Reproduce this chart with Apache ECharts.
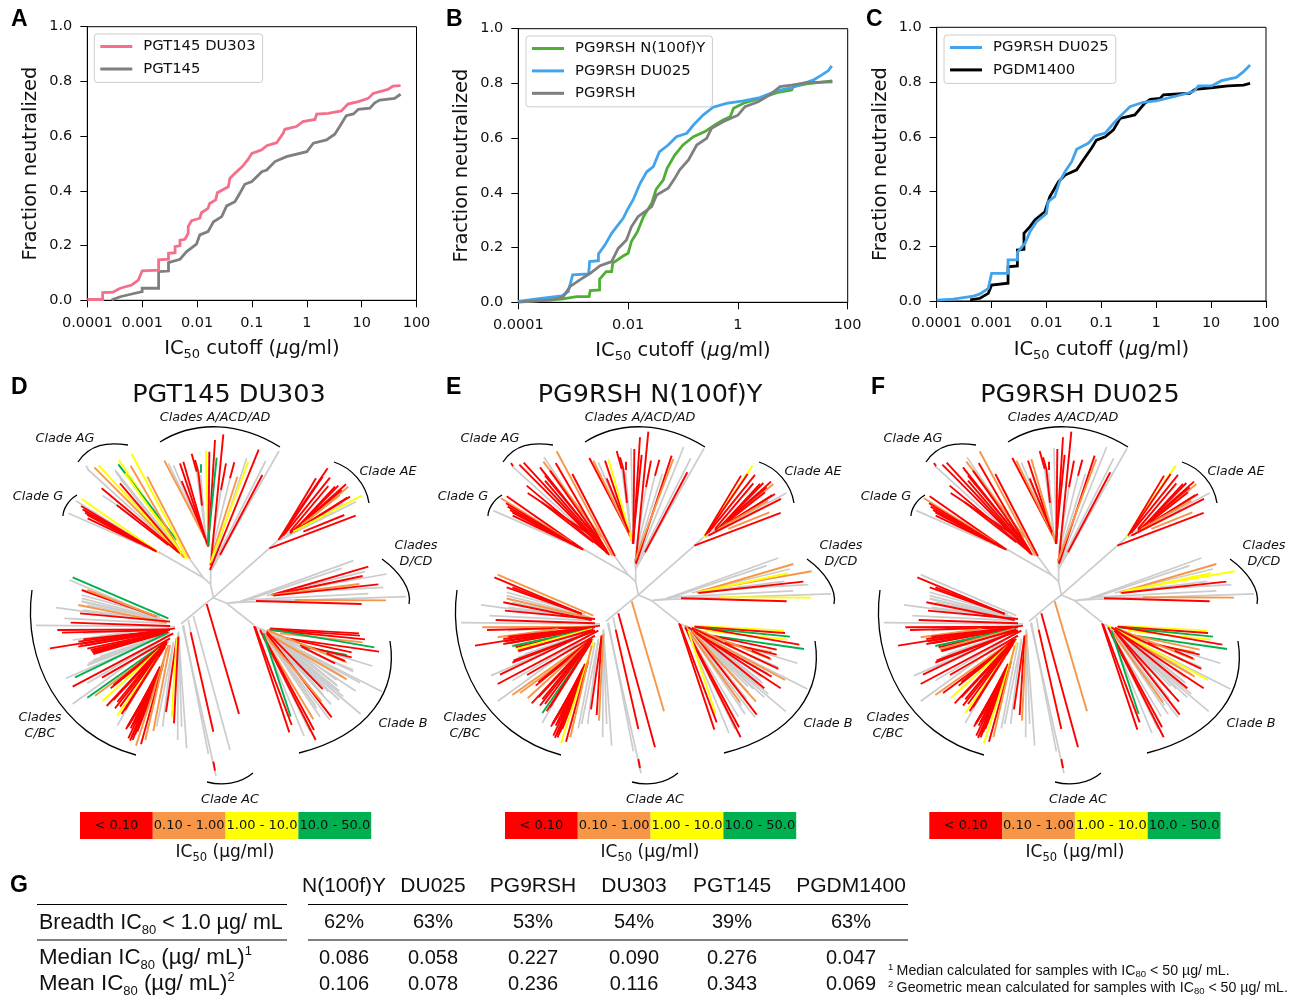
<!DOCTYPE html>
<html><head><meta charset="utf-8">
<style>html,body{margin:0;padding:0;background:#fff}#c{width:1294px;height:995px}</style>
<script src="https://cdn.jsdelivr.net/npm/echarts@6/dist/echarts.min.js"></script>
</head><body><div id="c"></div>
<script>
// ---------- neutralization curves: [log10 IC50 cutoff, fraction neutralized]
const pgt145du303 = [[-4,.003],[-3.72,.003],[-3.72,.028],[-3.53,.03],[-3.4,.044],[-3.19,.056],[-3.07,.074],[-3,.108],[-2.7,.11],[-2.7,.148],[-2.52,.15],[-2.52,.172],[-2.4,.174],[-2.4,.196],[-2.31,.2],[-2.31,.22],[-2.22,.223],[-2.16,.245],[-2.16,.27],[-2.1,.291],[-1.95,.3],[-1.92,.32],[-1.8,.336],[-1.77,.354],[-1.66,.367],[-1.63,.393],[-1.43,.415],[-1.4,.446],[-1.31,.464],[-1.18,.488],[-1.07,.515],[-1,.537],[-.82,.55],[-.73,.565],[-.55,.576],[-.43,.61],[-.4,.625],[-.19,.635],[-.07,.653],[.15,.661],[.18,.681],[.39,.683],[.63,.692],[.75,.717],[.94,.726],[1.12,.738],[1.21,.756],[1.48,.771],[1.57,.783],[1.71,.785]];
const pgt145 = [[-3.56,.001],[-3.4,.013],[-3.19,.023],[-3,.032],[-3,.044],[-2.7,.044],[-2.7,.105],[-2.52,.107],[-2.52,.138],[-2.31,.15],[-2.19,.178],[-2.01,.205],[-1.95,.239],[-1.8,.251],[-1.7,.287],[-1.55,.306],[-1.46,.345],[-1.31,.36],[-1.22,.391],[-1.13,.424],[-1,.434],[-.82,.47],[-.73,.476],[-.58,.507],[-.37,.525],[0,.543],[.12,.574],[.36,.586],[.51,.607],[.6,.635],[.72,.675],[.85,.681],[.94,.698],[1.15,.702],[1.24,.722],[1.33,.732],[1.6,.738],[1.71,.753]];
const pg9rshN100fY = [[-4,.002],[-3.21,.012],[-2.94,.021],[-2.71,.021],[-2.69,.043],[-2.52,.045],[-2.52,.084],[-2.4,.112],[-2.3,.112],[-2.28,.143],[-2.09,.169],[-2,.179],[-1.94,.222],[-1.83,.258],[-1.72,.313],[-1.57,.362],[-1.49,.413],[-1.36,.447],[-1.29,.49],[-1.15,.538],[-1,.575],[-.81,.605],[-.6,.624],[-.42,.648],[-.27,.666],[-.14,.678],[-.08,.709],[.13,.73],[.4,.745],[.71,.766],[.98,.776],[1.01,.788],[1.25,.798],[1.72,.809]];
const pg9rshDu025B = [[-4,.003],[-3.73,.011],[-3.21,.023],[-3.09,.039],[-3.01,.1],[-2.72,.104],[-2.7,.149],[-2.54,.152],[-2.54,.177],[-2.42,.21],[-2.3,.252],[-2.21,.276],[-2.09,.307],[-2,.343],[-1.91,.374],[-1.78,.435],[-1.66,.477],[-1.54,.496],[-1.43,.55],[-1.27,.575],[-1.12,.605],[-.93,.618],[-.81,.648],[-.63,.685],[-.45,.713],[-.21,.727],[.1,.736],[.4,.748],[.71,.773],[1,.786],[1.37,.812],[1.53,.831],[1.65,.847],[1.71,.864]];
const pg9rsh = [[-4,.001],[-3.36,.009],[-3.18,.021],[-3.06,.057],[-2.88,.082],[-2.69,.106],[-2.51,.134],[-2.3,.149],[-2.18,.197],[-2.03,.228],[-1.94,.276],[-1.82,.313],[-1.57,.35],[-1.48,.392],[-1.27,.417],[-1.15,.453],[-1.06,.484],[-.9,.52],[-.75,.575],[-.57,.599],[-.48,.636],[-.27,.66],[0,.684],[.13,.715],[.37,.733],[.58,.758],[.77,.788],[.98,.794],[1.25,.803],[1.72,.806]];
const pgdm1400 = [[-3.39,.004],[-3.21,.01],[-3.06,.028],[-3,.058],[-2.7,.065],[-2.7,.125],[-2.53,.128],[-2.53,.186],[-2.41,.189],[-2.41,.247],[-2.3,.272],[-2.21,.296],[-2.03,.326],[-1.94,.381],[-1.78,.436],[-1.66,.46],[-1.45,.479],[-1.33,.515],[-1.18,.558],[-1.09,.588],[-.93,.6],[-.78,.625],[-.66,.667],[-.39,.68],[-.21,.722],[-.11,.737],[.07,.74],[.13,.753],[.61,.759],[.71,.773],[1.04,.78],[1.31,.786],[1.59,.789],[1.71,.795]];
const pg9rshDu025C = [[-4,.003],[-3.7,.007],[-3.33,.018],[-3.21,.026],[-3.06,.046],[-3,.101],[-2.7,.101],[-2.7,.15],[-2.53,.15],[-2.53,.178],[-2.39,.211],[-2.3,.253],[-2.18,.29],[-2,.32],[-1.97,.363],[-1.85,.381],[-1.76,.436],[-1.66,.473],[-1.54,.509],[-1.45,.554],[-1.24,.576],[-1.12,.603],[-.93,.613],[-.78,.649],[-.63,.68],[-.48,.71],[-.24,.726],[0,.731],[.37,.749],[.68,.765],[.77,.786],[1.01,.786],[1.19,.805],[1.46,.817],[1.59,.838],[1.71,.862]];
const tickLabels10 = ['0.0001','0.001','0.01','0.1','1','10','100'];
const tickLabels100 = ['0.0001','0.01','1','100'];
const fractionTicks = ['0.0','0.2','0.4','0.6','0.8','1.0'];

// ---------- phylogenetic tree: [tip x, tip y, base x, base y, IC50 bin per panel D/E/F]
// bins: r <0.1, o 0.1-1, y 1-10, n 10-50, g not neutralized / internal branch
const internalBranches = [[632,628,640,668,'ggg'],[632,628,632,590,'ggg'],[632,590,630,560,'ggg'],[632,628,610,608,'ggg'],[610,608,570,553,'ggg'],[610,608,475,530,'ggg'],[640,668,808,520,'ggg'],[808,520,835,495,'ggg'],[640,668,680,685,'ggg'],[680,685,725,680,'ggg'],[680,685,762,750,'ggg'],[640,668,620,683,'ggg'],[620,683,543,747,'ggg']];
const cladeG = [[245,372,475,532,'yrr'],[228,378,440,510,'goo'],[243,393,470,530,'rrr'],[248,403,465,527,'rrr'],[255,413,460,525,'rrr'],[262,420,440,515,'rrr'],[263,430,420,505,'rrr'],[205,415,480,535,'ggg']];
const cladeAG = [[258,272,264,282,'grr'],[262,282,535,530,'ggg'],[283,277,540,535,'orr'],[296,271,548,545,'yrr'],[348,292,530,525,'ggg'],[357,255,555,550,'ygg'],[355,268,530,495,'noo'],[392,272,552,548,'orr'],[395,237,562,550,'yoo'],[442,305,570,552,'orr'],[305,340,535,532,'rrr'],[360,325,540,535,'rrr'],[350,390,505,510,'rrr'],[308,362,500,490,'grr'],[345,285,540,530,'grr'],[375,295,545,535,'yrr'],[360,310,530,515,'grr'],[350,330,500,480,'ggg']];
const cladeA = [[493,257,615,490,'orr'],[505,265,618,495,'goo'],[520,270,618,500,'ggg'],[540,265,615,490,'rrr'],[550,260,622,510,'ryo'],[545,318,612,480,'rrr'],[575,236,590,290,'rrr'],[590,290,620,500,'ggg'],[585,255,595,290,'rrr'],[603,268,603,293,'nrr'],[595,290,606,392,'rrr'],[602,300,618,505,'ggg'],[618,228,625,515,'ygg'],[628,230,625,515,'rrr'],[645,195,625,510,'rrr'],[670,178,632,570,'rrr'],[650,248,623,515,'nrr'],[678,265,663,345,'rrr'],[703,262,690,310,'rrr'],[690,310,633,540,'ggg'],[663,345,633,530,'ggg'],[740,250,633,575,'grr'],[712,305,640,530,'ogg'],[745,260,630,565,'yoo'],[776,224,630,585,'rgg'],[797,258,638,572,'ggg'],[787,300,660,540,'rrr'],[837,228,632,590,'ggg']];
const cladeAE = [[983,280,835,495,'ryy'],[948,310,840,490,'rrr'],[968,305,845,485,'rrr'],[990,308,850,482,'rrr'],[985,333,870,470,'rrr'],[1005,335,880,470,'rrr'],[1015,332,885,465,'rrr'],[1038,328,890,460,'rrr'],[1045,335,892,462,'ooo'],[1025,345,870,475,'rrr'],[1020,360,905,450,'orr'],[1042,368,885,468,'rrr'],[1050,365,880,470,'rrr'],[1000,360,880,470,'ggg'],[1015,352,860,480,'ggg'],[1030,385,880,470,'goo'],[1085,362,880,470,'ygg'],[1068,380,850,490,'grr'],[1033,420,910,470,'roo'],[1067,422,808,520,'rrr'],[1000,410,840,495,'ggg']];
const cladeDCD = [[1060,557,720,680,'ggg'],[1025,580,720,682,'ggg'],[1095,590,800,662,'ggg'],[1150,637,830,655,'ggg'],[1105,656,730,675,'ggg'],[1218,665,690,683,'ggg'],[885,675,770,675,'ggg'],[1105,575,815,660,'roo'],[1160,597,830,655,'goy'],[1088,603,820,660,'ryy'],[1078,627,815,660,'ogg'],[1135,628,820,662,'rrr'],[1158,676,885,675,'oyo'],[1085,687,768,678,'rrr']];
// lower half of the tree, y counted from the line lowerOrigin
const lowerOrigin = 675;
const cladeB = [[1010,240,830,110,'ggg'],[1005,250,830,110,'ggg'],[1012,258,840,115,'ggg'],[995,262,830,115,'ggg'],[985,275,820,110,'ggg'],[970,285,820,110,'ggg'],[1030,230,850,120,'ggg'],[960,300,810,105,'ggg'],[950,325,800,105,'ggg'],[1077,100,810,85,'ryy'],[1080,107,808,88,'rrr'],[1095,118,810,90,'rnn'],[1088,127,840,100,'oyy'],[1123,142,810,88,'nrr'],[1137,155,860,115,'rnn'],[1055,157,860,115,'rro'],[1040,165,905,140,'noo'],[1055,172,900,135,'rrr'],[1040,187,800,90,'ooo'],[1035,183,980,160,'rrr'],[1005,190,905,140,'rgg'],[1117,198,830,110,'ggg'],[1060,210,850,120,'ggg'],[1060,215,800,92,'grr'],[1040,238,800,100,'oro'],[1080,248,780,85,'goy'],[1147,275,800,100,'ggg'],[1067,273,790,90,'grr'],[1030,290,790,90,'ggg'],[1018,273,800,95,'grr'],[968,267,800,95,'rgg'],[1000,265,800,100,'ggg'],[1082,342,770,80,'ggg'],[995,352,800,100,'rrr'],[993,313,800,100,'gor'],[965,305,790,100,'ogg'],[945,315,790,100,'goo'],[940,358,785,100,'ogg'],[942,390,780,90,'rrr'],[947,420,790,110,'rrr'],[960,350,790,100,'ggg'],[990,360,790,100,'ggg'],[912,408,785,100,'ggg'],[930,395,785,100,'ggg'],[872,350,790,100,'nyn'],[875,375,765,80,'rrr'],[868,397,762,78,'rrr'],[1018,300,800,100,'ggg'],[1010,255,820,110,'ggg']];
const cladeAC = [[717,342,620,12,'roo'],[690,450,580,48,'grr'],[572,97,565,60,'ggg'],[640,395,572,97,'rrr'],[625,462,550,75,'ggg'],[648,528,548,78,'ggg'],[645,512,640,485,'rrr']];
const cladeC = [[218,-68,505,55,'nog'],[208,-60,470,50,'grr'],[245,-30,470,50,'rrr'],[262,-30,470,50,'orr'],[245,-15,480,50,'ggg'],[245,-5,480,55,'ggg'],[245,5,490,58,'ggg'],[262,15,490,60,'ggg'],[250,30,500,62,'ggg'],[168,23,500,68,'ggg'],[235,15,500,68,'orr'],[245,3,495,62,'gog'],[240,40,510,65,'rrr'],[193,55,500,70,'ggg'],[212,68,510,78,'rrr'],[108,76,525,80,'ggg'],[172,90,510,88,'ror'],[186,98,510,90,'rrr'],[250,100,515,85,'ggg'],[218,120,400,95,'goo'],[150,145,525,85,'rrr'],[235,125,500,90,'rrr'],[235,140,500,92,'rrr'],[240,132,500,92,'rrr'],[255,137,500,93,'rrr'],[250,118,505,90,'rrr'],[272,150,505,96,'rrr'],[278,158,505,97,'rrr'],[262,146,500,95,'rnn'],[275,155,500,95,'ryo'],[280,162,500,98,'rrr'],[280,180,510,100,'ggg'],[300,170,510,98,'ggg'],[275,185,510,100,'ggg'],[330,165,510,100,'ggg'],[265,190,510,100,'grr'],[262,196,510,100,'grr'],[225,232,500,100,'nrr'],[198,235,510,100,'ggg'],[218,260,520,100,'rrr'],[306,233,510,115,'rrr'],[218,312,510,100,'ggg'],[262,250,500,110,'ggg'],[262,293,500,125,'noo'],[285,287,505,125,'oor'],[332,265,500,130,'rrr'],[340,255,498,125,'rrr'],[340,300,495,135,'rrr'],[345,325,490,140,'rrr'],[360,320,495,135,'rrr'],[375,330,495,140,'rrr'],[308,303,480,145,'yoy'],[320,318,500,125,'rrr'],[352,306,500,125,'rrr'],[352,347,475,170,'yny'],[365,342,500,130,'rrr'],[352,377,490,130,'ggg'],[378,388,470,230,'rrr'],[385,378,472,225,'rrr'],[392,385,475,220,'rrr'],[398,375,475,215,'rrr'],[382,380,472,228,'rrr'],[388,372,470,225,'rrr'],[395,362,472,220,'rrr'],[403,350,475,210,'rrr'],[410,370,478,210,'rrr'],[420,340,480,200,'rrr'],[385,415,478,215,'rrr'],[395,412,480,210,'rrr'],[402,400,482,205,'rrr'],[390,422,478,220,'rrr'],[398,420,480,200,'rrr'],[405,405,480,215,'rrr'],[412,395,485,205,'rrr'],[408,437,505,135,'oyy'],[423,433,490,190,'rrr'],[436,420,500,145,'ooo'],[460,393,510,135,'ogg'],[470,380,520,130,'ggg'],[488,380,520,125,'ggg'],[498,336,530,115,'rrr'],[515,353,530,115,'yrr'],[522,370,535,110,'roo'],[533,420,535,100,'ggg'],[545,380,535,100,'ggg'],[560,445,535,95,'ggg']];

// ---------- table
const tableColumns = ['N(100f)Y','DU025','PG9RSH','DU303','PGT145','PGDM1400'];
const breadth = ['62%','63%','53%','54%','39%','63%'];
const medianIC80 = ['0.086','0.058','0.227','0.090','0.276','0.047'];
const meanIC80 = ['0.106','0.078','0.236','0.116','0.343','0.069'];
const binLabels = ['< 0.10','0.10 - 1.00','1.00 - 10.0','10.0 - 50.0'];

const BIN_COLORS = {r:'#ff0000',o:'#f79646',y:'#ffff00',n:'#00b050',g:'#cccccc'};
const SANS = 'DejaVu Sans', ARIAL = 'Liberation Sans';
const lowered = a => a.map(b => [b[0], b[1]+lowerOrigin, b[2], b[3]+lowerOrigin, b[4]]);
const allBranches = [...internalBranches,...cladeG,...cladeAG,...cladeA,...cladeAE,...cladeDCD,...lowered(cladeB),...lowered(cladeAC),...lowered(cladeC)];
const panelData = p => {
  const rows = allBranches.map(b => [b[0],b[1],b[2],b[3],b[4][p]]);
  return [...rows.filter(r=>r[4]==='g'),...rows.filter(r=>r[4]!=='g')];
};
const pow = a => a.map(d => [Math.pow(10,d[0]), d[1]]);

const rich = {
  a:{fontFamily:SANS,fontSize:19.5,color:'#111'},
  s:{fontFamily:SANS,fontSize:13,color:'#111',verticalAlign:'bottom',lineHeight:24},
  i:{fontFamily:SANS,fontSize:19.5,fontStyle:'italic',color:'#111'}
};
const plots = [
  {left:87.3,top:26.7,right:416.5,bottom:300.3,base:10,labels:tickLabels10},
  {left:518.3,top:28.7,right:847.7,bottom:302.3,base:100,labels:tickLabels100},
  {left:936.7,top:27.3,right:1266,bottom:301,base:10,labels:tickLabels10}
];
const grid=[],xAxis=[],yAxis=[],series=[];
plots.forEach((p,i)=>{
  grid.push({left:p.left,top:p.top,width:p.right-p.left,height:p.bottom-p.top,show:true,borderColor:'#000',borderWidth:1,backgroundColor:'transparent'});
  xAxis.push({gridIndex:i,type:'log',logBase:p.base,min:0.0001,max:100,splitLine:{show:false},minorTick:{show:false},
    axisLine:{onZero:false,lineStyle:{color:'#000',width:1}},axisTick:{inside:false,length:7,lineStyle:{color:'#000'}},
    axisLabel:{fontFamily:SANS,fontSize:14.5,color:'#111',margin:15,showMinLabel:true,showMaxLabel:true,hideOverlap:false,formatter:(v,idx)=>p.labels[idx]},
    name:'{a|IC}{s|50}{a| cutoff (}{i|μ}{a|g/ml)}',nameLocation:'middle',nameGap:37,nameTextStyle:{rich}});
  yAxis.push({gridIndex:i,type:'value',min:0,max:1,interval:0.2,splitLine:{show:false},
    axisLine:{show:true,lineStyle:{color:'#000',width:1}},axisTick:{show:true,length:7,lineStyle:{color:'#000'}},
    axisLabel:{fontFamily:SANS,fontSize:14.5,color:'#111',margin:15,padding:[8,0,0,0],formatter:(v,idx)=>fractionTicks[idx]},
    name:'Fraction neutralized',nameLocation:'middle',nameGap:46,nameTextStyle:{fontFamily:SANS,fontSize:19.5,color:'#111'}});
});
const curve=(name,data,idx,color,z)=>series.push({type:'line',name,data:pow(data),xAxisIndex:idx,yAxisIndex:idx,showSymbol:false,symbol:'none',silent:true,
  clip:false,lineStyle:{color,width:2.8,join:'miter'},itemStyle:{color},z});
curve('PGT145 DU303',pgt145du303,0,'#f4708a',3);
curve('PGT145',pgt145,0,'#7f7f7f',2);
curve('PG9RSH N(100f)Y',pg9rshN100fY,1,'#4fae34',2);
curve('PG9RSH DU025',pg9rshDu025B,1,'#42a5ec',3);
curve('PG9RSH',pg9rsh,1,'#7f7f7f',4);
curve('PGDM1400',pgdm1400,2,'#000000',2);
curve('PG9RSH DU025',pg9rshDu025C,2,'#42a5ec',3);

const legendBase={orient:'vertical',icon:'rect',itemWidth:32,itemHeight:3,itemGap:5.4,backgroundColor:'#fff',borderColor:'#ccc',borderWidth:1,borderRadius:3,padding:[4,7,5,6],selectedMode:false,
  textStyle:{fontFamily:SANS,fontSize:14.8,color:'#111',lineHeight:17,padding:[0,0,0,6]},z:10};
const legend=[
  {...legendBase,left:94.3,top:34,data:['PGT145 DU303','PGT145']},
  {...legendBase,left:526,top:36,data:['PG9RSH N(100f)Y','PG9RSH DU025','PG9RSH']},
  {...legendBase,left:944,top:35,data:['PG9RSH DU025','PGDM1400']}
];
// hidden tree coordinate systems
[[0,375],[425,372.3],[848,372.3]].forEach((o,p)=>{
  const idx=3+p, rows=panelData(p);
  grid.push({left:o[0],top:o[1],width:430,height:495,show:false});
  xAxis.push({gridIndex:idx,type:'value',min:0,max:1290,show:false});
  yAxis.push({gridIndex:idx,type:'value',min:0,max:1485,inverse:true,show:false});
  series.push({type:'custom',xAxisIndex:idx,yAxisIndex:idx,silent:true,clip:false,data:rows,
    renderItem:(params,api)=>{
      const a=api.coord([api.value(0),api.value(1)]),b=api.coord([api.value(2),api.value(3)]);
      const bin=rows[params.dataIndex][4];
      return {type:'line',shape:{x1:a[0],y1:a[1],x2:b[0],y2:b[1]},style:{stroke:BIN_COLORS[bin],lineWidth:bin==='g'?1.7:1.9}};
    }});
});

// ---------- annotations
const g=[];
const text=(x,y,t,o={})=>g.push({type:'text',x,y,silent:true,style:Object.assign({text:t,fontFamily:SANS,fontSize:13,fill:'#111',align:'center',verticalAlign:'middle'},o)});
[['A',11,20],['B',446,20],['C',866,20],['D',11,388],['E',446,388],['F',871,388],['G',10,886]].forEach(l=>text(l[1],l[2],l[0],{fontFamily:ARIAL,fontWeight:'bold',fontSize:23,align:'left',fill:'#000'}));
const titles=['PGT145 DU303','PG9RSH N(100f)Y','PG9RSH DU025'];
const icRich={a:{fontFamily:SANS,fontSize:17,fill:'#111'},s:{fontFamily:SANS,fontSize:11.5,fill:'#111',verticalAlign:'bottom',lineHeight:22}};
[0,425,848].forEach((dx,p)=>{
  const cx=[229,650,1080][p];
  text(cx,395.5,titles[p],{fontSize:25.5});
  const it={fontStyle:'italic',fontSize:12.8};
  [['Clades A/ACD/AD',215,418],['Clade AG',65,439],['Clade G',38,497],['Clade AE',388,472],['Clades',416,546],['D/CD',416,562],['Clades',40,718],['C/BC',40,734],['Clade B',403,724],['Clade AC',230,800]].forEach(c=>text(c[1]+dx,c[2],c[0],it));
  const B=(x1,y1,a,b,c,d,x2,y2)=>g.push({type:'bezierCurve',silent:true,shape:{x1:x1+dx,y1,cpx1:a+dx,cpy1:b,cpx2:c+dx,cpy2:d,x2:x2+dx,y2},style:{stroke:'#000',lineWidth:1.3,fill:null}});
  B(78,462,90,444,107,442,128,445);
  B(160,442,195,420,240,422,280,447);
  B(334,462,352,468,366,484,369,503);
  B(77,495,68,500,63,510,63,516);
  B(382,559,400,572,412,590,409,604);
  B(32,590,22,660,60,735,136,755);
  B(390,641,398,690,370,735,299,753);
  B(207,782,222,786,240,784,253,773);
  const bx=[80,505,929.3][p];
  binLabels.forEach((t,k)=>{
    const x=bx+k*72.8;
    g.push({type:'rect',silent:true,shape:{x,y:812,width:72.8,height:27},style:{fill:[BIN_COLORS.r,BIN_COLORS.o,BIN_COLORS.y,BIN_COLORS.n][k]}});
    text(x+36.4,825.5,t,{fontSize:13,fill:'#111'});
  });
  g.push({type:'text',x:[225,650,1075][p],y:853,silent:true,style:{text:'{a|IC}{s|50}{a| (µg/ml)}',rich:icRich,align:'center',verticalAlign:'middle'}});
});
// table
const colX=[344,433,533,634,732,851];
const T={fontFamily:ARIAL,fontSize:21,fill:'#111'};
const N={fontFamily:ARIAL,fontSize:20,fill:'#111'};
const labelRich=size=>{const L={fontFamily:ARIAL,fontSize:size,fill:'#111'};
  return {a:{...L},s:{...L,fontSize:13,verticalAlign:'bottom',lineHeight:27},u:{...L,fontSize:13,verticalAlign:'top',lineHeight:27}};};
tableColumns.forEach((c,i)=>{
  text(colX[i],886,c,T);
  text(colX[i],922,breadth[i],N);
  text(colX[i],958,medianIC80[i],N);
  text(colX[i],984,meanIC80[i],N);
});
const rowLab=(y,t,size)=>g.push({type:'text',x:39,y,silent:true,style:{text:t,rich:labelRich(size),align:'left',verticalAlign:'middle'}});
rowLab(923,'{a|Breadth IC}{s|80}{a| < 1.0 µg/ mL}',21.5);
rowLab(958,'{a|Median IC}{s|80}{a| (µg/ mL)}{u|1}',22.3);
rowLab(984,'{a|Mean IC}{s|80}{a| (µg/ mL)}{u|2}',22.3);
[[37,287,904.5],[308,908,904.5],[37,287,940],[308,908,940]].forEach(l=>g.push({type:'line',silent:true,shape:{x1:l[0],y1:l[2],x2:l[1],y2:l[2]},style:{stroke:'#000',lineWidth:1}}));
const fn={fontFamily:ARIAL,fontSize:14.2,fill:'#111'};
const fRich={a:fn,s:{...fn,fontSize:9.5,verticalAlign:'bottom',lineHeight:17},u:{...fn,fontSize:9.5,verticalAlign:'top',lineHeight:17}};
g.push({type:'text',x:888,y:971,silent:true,style:{text:'{u|1} {a|Median calculated for samples with IC}{s|80}{a| < 50 µg/ mL.}',rich:fRich,align:'left',verticalAlign:'middle'}});
g.push({type:'text',x:888,y:988,silent:true,style:{text:'{u|2} {a|Geometric mean calculated for samples with IC}{s|80}{a| < 50 µg/ mL.}',rich:fRich,align:'left',verticalAlign:'middle'}});

const chart=echarts.init(document.getElementById('c'),null,{renderer:'canvas',width:1294,height:995});
chart.setOption({animation:false,backgroundColor:'#fff',tooltip:{show:false},grid,xAxis,yAxis,legend,series,graphic:{elements:g}});
</script></body></html>
